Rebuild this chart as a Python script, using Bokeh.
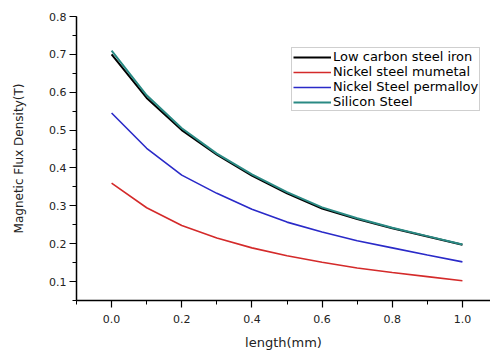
from bokeh.plotting import figure
from bokeh.models import SingleIntervalTicker, Range1d, Legend, LegendItem, PrintfTickFormatter
from bokeh.embed import file_html
from bokeh.resources import INLINE

length_mm = [0.0, 0.1, 0.2, 0.3, 0.4, 0.5, 0.6, 0.7, 0.8, 0.9, 1.0]
low_carbon = [0.700, 0.585, 0.500, 0.435, 0.380, 0.333, 0.293, 0.265, 0.241, 0.219, 0.197]
mumetal = [0.360, 0.295, 0.248, 0.215, 0.189, 0.168, 0.151, 0.136, 0.124, 0.113, 0.102]
permalloy = [0.545, 0.452, 0.381, 0.333, 0.291, 0.257, 0.231, 0.208, 0.189, 0.170, 0.152]
silicon = [0.710, 0.592, 0.505, 0.438, 0.383, 0.336, 0.296, 0.267, 0.242, 0.220, 0.198]

names = ["Low carbon steel iron", "Nickel steel mumetal", "Nickel Steel permalloy", "Silicon Steel"]
colors = ["#000000", "#d42a2a", "#2a2ac8", "#2a8a84"]
widths = [2.0, 1.6, 1.6, 2.0]
series = [low_carbon, mumetal, permalloy, silicon]

FONT = "DejaVu Sans"

p = figure(width=490, height=352, output_backend="svg", toolbar_location=None,
           x_range=Range1d(-0.1, 1.08), y_range=Range1d(0.05, 0.8),
           min_border_left=76, min_border_right=0, min_border_top=16, min_border_bottom=49)
p.outline_line_color = None
p.xgrid.visible = False
p.ygrid.visible = False
p.background_fill_color = "white"
p.border_fill_color = "white"

renderers = []
for ys, c, w in zip(series, colors, widths):
    r = p.line(length_mm, ys, line_color=c, line_width=w)
    renderers.append(r)

legend = Legend(items=[LegendItem(label=n, renderers=[r]) for n, r in zip(names, renderers)],
                location=(215, 189))
legend.label_text_font = FONT
legend.label_text_font_size = "13px"
legend.label_text_color = "#000000"
legend.label_height = 14
legend.glyph_height = 14
legend.glyph_width = 38
legend.label_standoff = 2
legend.spacing = 0
legend.padding = 1
legend.margin = 0
legend.border_line_color = "#a0a0a0"
legend.border_line_width = 1
legend.background_fill_alpha = 1.0
p.add_layout(legend, "center")

p.xaxis.ticker = SingleIntervalTicker(interval=0.2, num_minor_ticks=2)
p.yaxis.ticker = SingleIntervalTicker(interval=0.1, num_minor_ticks=2)
p.xaxis.formatter = PrintfTickFormatter(format="%.1f")
p.yaxis.formatter = PrintfTickFormatter(format="%.1f")
p.xaxis.axis_label = "length(mm)"
p.yaxis.axis_label = "Magnetic Flux Density(T)"

for ax in (p.xaxis, p.yaxis):
    ax.axis_line_color = "#000000"
    ax.axis_line_width = 1.5
    ax.major_tick_line_color = "#000000"
    ax.minor_tick_line_color = "#000000"
    ax.major_tick_line_width = 1.2
    ax.minor_tick_line_width = 1.0
    ax.major_tick_out = 7
    ax.major_tick_in = 0
    ax.minor_tick_out = 4
    ax.minor_tick_in = 0
    ax.major_label_text_font = FONT
    ax.major_label_text_font_size = "11px"
    ax.major_label_text_color = "#222222"
    ax.axis_label_text_font = FONT
    ax.axis_label_text_font_style = "normal"
    ax.axis_label_text_color = "#222222"

p.xaxis.axis_label_text_font_size = "13px"
p.yaxis.axis_label_text_font_size = "12px"
p.xaxis.major_label_standoff = 7
p.yaxis.major_label_standoff = 3
p.xaxis.axis_label_standoff = 9
p.yaxis.axis_label_standoff = 20

open("out.html", "w").write(file_html(p, INLINE))
